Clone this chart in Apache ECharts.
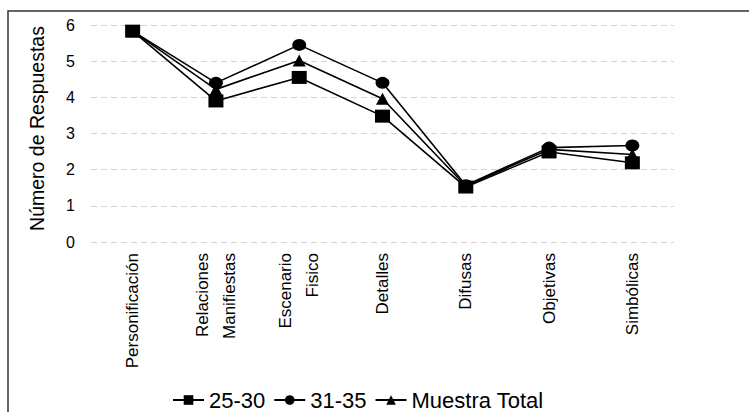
<!DOCTYPE html>
<html>
<head>
<meta charset="utf-8">
<script src="https://cdn.jsdelivr.net/npm/echarts@6/dist/echarts.min.js"></script>
<style>
  html, body { margin: 0; padding: 0; background: #fff; }
  #chart { width: 749px; height: 412px; }
</style>
</head>
<body>
<div id="chart"></div>
<script>
// Response categories along the horizontal axis
const categories = [
  'Personificación',
  'Relaciones\nManifiestas',
  'Escenario\nFisico',
  'Detalles',
  'Difusas',
  'Objetivas',
  'Simbólicas'
];

// Mean number of responses per age group
const grupo2530 = [5.83, 3.90, 4.55, 3.48, 1.52, 2.49, 2.19];
const grupo3135 = [5.83, 4.40, 5.45, 4.40, 1.57, 2.61, 2.67];
const muestraTotal = [5.83, 4.22, 5.02, 3.96, 1.55, 2.56, 2.42];

const yTicks = [0, 1, 2, 3, 4, 5, 6];

const font = "'Liberation Sans', Arial, sans-serif";

const chart = echarts.init(document.getElementById('chart'), null, { renderer: 'svg' });

function lineSeries(name, data, symbol, size, z) {
  return {
    name: name,
    type: 'line',
    data: data,
    symbol: symbol,
    symbolSize: size,
    z: z,
    lineStyle: { color: '#000', width: 1.6 },
    itemStyle: { color: '#000' },
    emphasis: { disabled: true }
  };
}

chart.setOption({
  animation: false,
  backgroundColor: '#fff',
  graphic: [{
    type: 'rect',
    shape: { x: 8, y: 11, width: 760, height: 430 },
    style: { fill: 'none', stroke: '#333', lineWidth: 1.5 },
    silent: true
  }],
  grid: { left: 91, right: 75, top: 25, bottom: 170, containLabel: false },
  legend: {
    data: ['25-30', '31-35', 'Muestra Total'],
    top: 389,
    left: 172,
    padding: 0,
    itemWidth: 31,
    itemHeight: 12,
    itemGap: 8,
    textStyle: { fontFamily: font, fontSize: 22, color: '#000', lineHeight: 22 }
  },
  xAxis: {
    type: 'category',
    data: categories,
    boundaryGap: true,
    axisLine: { show: false },
    axisTick: { show: false },
    axisLabel: {
      rotate: 90,
      interval: 0,
      margin: 11,
      fontFamily: font,
      fontSize: 17,
      color: '#000',
      lineHeight: 27
    }
  },
  yAxis: {
    type: 'value',
    min: 0,
    max: 6,
    interval: 1,
    name: 'Número de Respuestas',
    nameLocation: 'middle',
    nameGap: 44,
    nameTextStyle: { fontFamily: font, fontSize: 19.5, color: '#000', padding: [0, 0, 0, 10] },
    axisLine: { show: false },
    axisTick: { show: false },
    axisLabel: {
      margin: 16,
      fontFamily: font,
      fontSize: 16,
      color: '#000',
      formatter: function (v) { return yTicks.indexOf(v) >= 0 ? String(v) : ''; }
    },
    splitLine: { show: true, lineStyle: { color: '#d4d4d4', width: 1, type: [6, 4] } }
  },
  series: [
    lineSeries('25-30', grupo2530, 'rect', [15, 13], 4),
    lineSeries('31-35', grupo3135, 'circle', [14, 12], 2),
    lineSeries('Muestra Total', muestraTotal, 'triangle', [13, 12], 3)
  ]
});
</script>
</body>
</html>
